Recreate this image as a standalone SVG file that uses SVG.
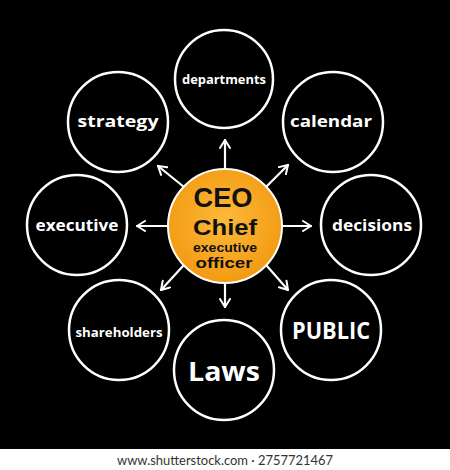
<svg xmlns="http://www.w3.org/2000/svg" width="450" height="470" viewBox="0 0 450 470">
  <defs>
    <radialGradient id="og" cx="50%" cy="45%" r="55%">
      <stop offset="0" stop-color="#FCBA3A"/>
      <stop offset="1" stop-color="#F39A12"/>
    </radialGradient>
    <marker id="ah" viewBox="0 0 10 12" refX="9" refY="6" markerWidth="10" markerHeight="12" markerUnits="userSpaceOnUse" orient="auto">
      <path d="M1,1 L9,6 L1,11" fill="none" stroke="#fff" stroke-width="2" stroke-linecap="round" stroke-linejoin="round"/>
    </marker>
    <style>
      .ring { fill: #000; stroke: #fff; stroke-width: 2.5; }
      .lbl { font-family: "Open Sans", "DejaVu Sans", sans-serif; font-weight: bold; fill: #fff; text-anchor: middle; }
      .ctr { font-family: "Liberation Sans", Arial, sans-serif; font-weight: bold; fill: #111; text-anchor: middle; }
      .conn line { stroke: #fff; stroke-width: 2.2; stroke-linecap: round; marker-end: url(#ah); }
    </style>
  </defs>
  <rect x="0" y="0" width="450" height="470" fill="#fff"/>
  <rect x="0" y="0" width="450" height="449" fill="#000"/>

  <g id="departments">
    <circle class="ring" cx="224" cy="79" r="49"/>
    <text class="lbl" x="224" y="84" font-size="13" textLength="84" lengthAdjust="spacingAndGlyphs">departments</text>
  </g>
  <g id="strategy">
    <circle class="ring" cx="118" cy="122" r="50"/>
    <text class="lbl" x="118" y="127" font-size="16" textLength="81" lengthAdjust="spacingAndGlyphs">strategy</text>
  </g>
  <g id="calendar">
    <circle class="ring" cx="333" cy="122" r="50"/>
    <text class="lbl" x="331" y="127" font-size="16" textLength="82" lengthAdjust="spacingAndGlyphs">calendar</text>
  </g>
  <g id="executive">
    <circle class="ring" cx="77" cy="225" r="50"/>
    <text class="lbl" x="77" y="231" font-size="16" textLength="83" lengthAdjust="spacingAndGlyphs">executive</text>
  </g>
  <g id="decisions">
    <circle class="ring" cx="371" cy="225" r="50"/>
    <text class="lbl" x="372" y="231" font-size="16" textLength="80" lengthAdjust="spacingAndGlyphs">decisions</text>
  </g>
  <g id="shareholders">
    <circle class="ring" cx="119" cy="330" r="50"/>
    <text class="lbl" x="119" y="337" font-size="12.5" textLength="87" lengthAdjust="spacingAndGlyphs">shareholders</text>
  </g>
  <g id="laws">
    <circle class="ring" cx="224" cy="370" r="50"/>
    <text class="lbl" x="224" y="381" font-size="27" textLength="72" lengthAdjust="spacingAndGlyphs">Laws</text>
  </g>
  <g id="public">
    <circle class="ring" cx="331" cy="330" r="50"/>
    <text class="lbl" x="331" y="339" font-size="24" textLength="78" lengthAdjust="spacingAndGlyphs">PUBLIC</text>
  </g>

  <g id="connectors" class="conn">
    <line x1="225" y1="170" x2="225" y2="140"/>
    <line x1="184" y1="187" x2="158" y2="166"/>
    <line x1="266" y1="187" x2="288" y2="165"/>
    <line x1="168" y1="226" x2="137" y2="226"/>
    <line x1="282" y1="226" x2="311" y2="226"/>
    <line x1="183" y1="266" x2="161" y2="290"/>
    <line x1="225" y1="282" x2="225" y2="307"/>
    <line x1="267" y1="266" x2="288" y2="290"/>
  </g>

  <g id="ceo">
    <circle cx="225" cy="226" r="57" fill="url(#og)" stroke="#fff" stroke-width="2"/>
    <text class="ctr" x="223" y="207" font-size="28" textLength="59" lengthAdjust="spacingAndGlyphs">CEO</text>
    <text class="ctr" x="225" y="235" font-size="22" textLength="64" lengthAdjust="spacingAndGlyphs">Chief</text>
    <text class="ctr" x="225" y="252" font-size="12" textLength="64" lengthAdjust="spacingAndGlyphs">executive</text>
    <text class="ctr" x="224" y="268" font-size="15" textLength="57" lengthAdjust="spacingAndGlyphs">officer</text>
  </g>

  <text x="225" y="465" font-family="Lato, 'Open Sans', sans-serif" font-size="14" fill="#333" text-anchor="middle" textLength="216" lengthAdjust="spacingAndGlyphs">www.shutterstock.com · 2757721467</text>
</svg>
